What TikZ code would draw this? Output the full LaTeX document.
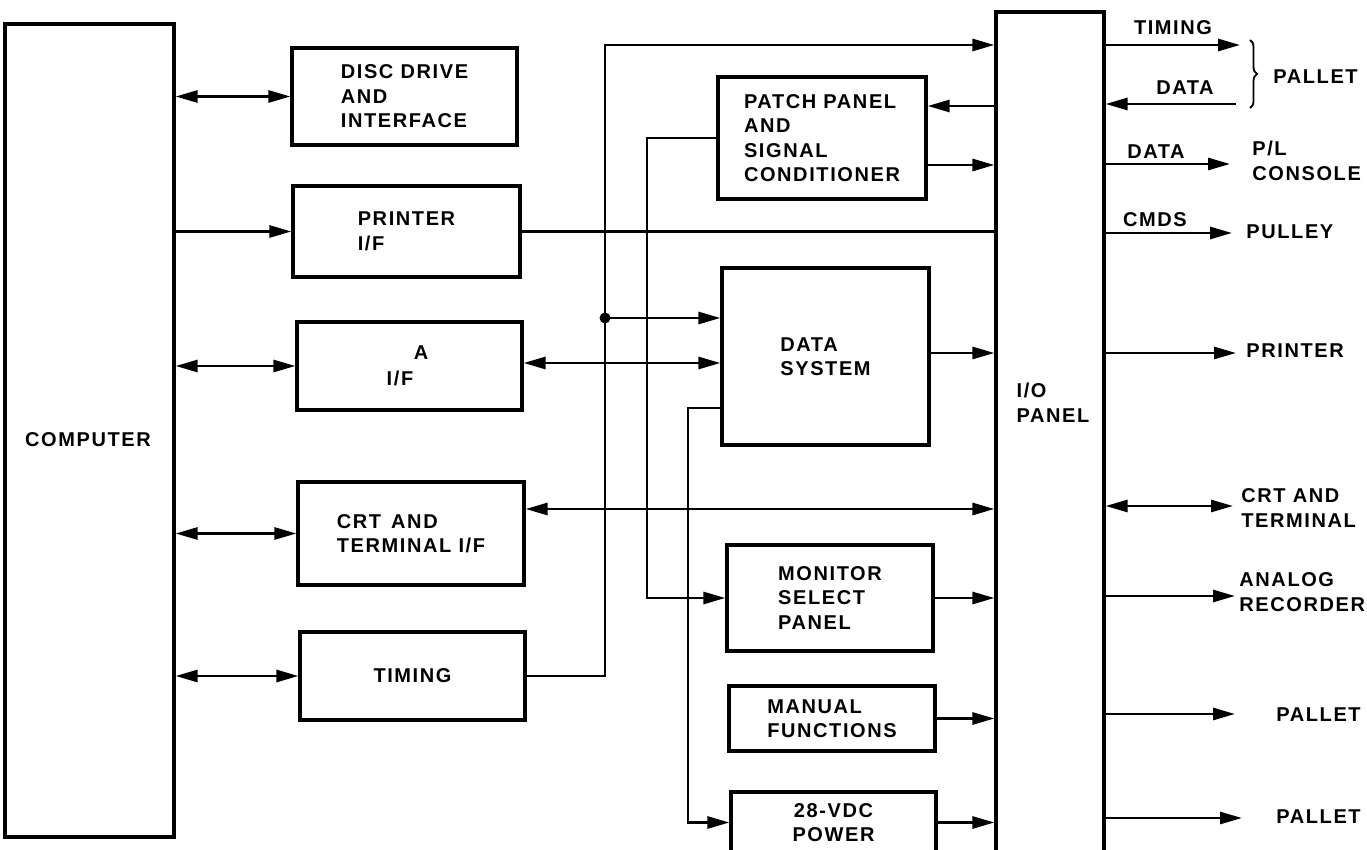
\documentclass[tikz,border=0pt]{standalone}
\usepackage{fontspec}
\setmainfont{Liberation Sans}[LetterSpace=8]
\usetikzlibrary{arrows.meta,decorations.pathreplacing}
\begin{document}
\begin{tikzpicture}[x=1pt,y=-1pt,
  line width=2.8pt,
  font=\fontsize{20}{24.5}\selectfont\bfseries,
  box/.style={draw, rectangle, inner sep=0pt, align=left, line width=3.2pt},
  txt/.style={inner sep=0pt, align=left},
  lbl/.style={inner sep=0pt, align=left, anchor=west},
  tip/.style={-{Triangle[length=22pt,width=12pt]}},
  dbl/.style={{Triangle[length=22pt,width=12pt]}-{Triangle[length=22pt,width=12pt]}},
  brc/.style={decorate, decoration={brace, amplitude=7pt}, line width=1.8pt}
]
\useasboundingbox (0,0) rectangle (1367,850);
\fill[white] (0,0) rectangle (1367,850);
\clip (0,0) rectangle (1367,850);

% boxes
\node[box, minimum width=169pt, minimum height=813pt] (comp) at (89.5,430.5) {};
\node[txt] (compt) at (88,440) {COMPUTER};
\node[box, minimum width=225pt, minimum height=97pt] (disc) at (404.5,96.5) {DISC DRIVE\\AND\\INTERFACE};
\node[box, minimum width=227pt, minimum height=91pt] (prn) at (406.5,231.5) {PRINTER\\I/F};
\node[box, minimum width=225pt, minimum height=88pt] (daif) at (409.5,366) {};
\node[txt] (daifa) at (421,353) {A};
\node[txt] (daiff) at (400,378) {I/F};
\node[box, minimum width=226pt, minimum height=103pt] (crt) at (411,533.5) {CRT\enspace AND\\TERMINAL I/F};
\node[box, minimum width=225pt, minimum height=88pt] (tim) at (412.5,676) {TIMING};
\node[box, minimum width=208pt, minimum height=122pt] (patch) at (822,138) {PATCH PANEL\\AND\\SIGNAL\\CONDITIONER};
\node[box, minimum width=207pt, minimum height=177pt] (ds) at (825.5,356.5) {DATA\\SYSTEM};
\node[box, minimum width=206pt, minimum height=106pt] (mon) at (830,598) {MONITOR\\SELECT\\PANEL};
\node[box, minimum width=206pt, minimum height=65pt] (man) at (832,718.5) {MANUAL\\FUNCTIONS};
\node[box, minimum width=205pt, minimum height=61pt, align=center] (pwr) at (833.5,822.5) {28-VDC\\POWER};
\node[box, minimum width=108pt, minimum height=858pt] (io) at (1050,441) {};
\node[txt] (iot) at (1053,403) {I/O\\PANEL};

% computer links
\draw[dbl] (comp.east |- disc.west) -- (disc.west);
\draw[tip] (comp.east |- prn.west) -- (prn.west);
\draw[dbl] (comp.east |- daif.west) -- (daif.west);
\draw[dbl] (comp.east |- crt.west) -- (crt.west);
\draw[dbl] (comp.east |- tim.west) -- (tim.west);

% middle links
\draw (prn.east) -- (io.west |- prn.east);
\draw[dbl] (daif.east |- 0,363) -- (ds.west |- 0,363);
\draw[dbl] (crt.east |- 0,509) -- (io.west |- 0,509);
\coordinate (tj) at (605,318);
\draw[tip] (tim.east) -- (605,676) |- (io.west |- 0,45);
\fill (tj) circle (5.5pt);
\draw[tip] (tj) -- (ds.west |- tj);
\draw[tip] (io.west |- 0,106) -- (patch.east |- 0,106);
\draw[tip] (patch.east |- 0,165) -- (io.west |- 0,165);
\draw[tip] (patch.west) -- (647,138) |- (mon.west);
\draw[tip] (ds.west |- 0,408) -- (688,408) |- (pwr.west);
\draw[tip] (ds.east |- 0,353) -- (io.west |- 0,353);
\draw[tip] (mon.east) -- (io.west |- mon.east);
\draw[tip] (man.east) -- (io.west |- man.east);
\draw[tip] (pwr.east) -- (io.west |- pwr.east);

% right side
\coordinate (rtim) at (1240,45);
\draw[tip] (io.east |- rtim) -- (rtim);
\node[txt] (ltim) at (1173,28) {TIMING};
\coordinate (rdat) at (1236,104);
\draw[tip] (rdat) -- (io.east |- rdat);
\node[txt] (ldat) at (1185,88) {DATA};
\draw[brc] (1250,40) -- (1250,108);
\node[lbl] (lpal1) at (1272,77) {PALLET};

\coordinate (rcon) at (1230,164);
\draw[tip] (io.east |- rcon) -- (rcon);
\node[txt] (ldat2) at (1156,152) {DATA};
\node[lbl] (lcon) at (1251,161) {P/L\\CONSOLE};

\coordinate (rpul) at (1232,233);
\draw[tip] (io.east |- rpul) -- (rpul);
\node[txt] (lcmd) at (1155,220) {CMDS};
\node[lbl] (lpul) at (1245,232) {PULLEY};

\coordinate (rprn) at (1236,353);
\draw[tip] (io.east |- rprn) -- (rprn);
\node[lbl] (lprn) at (1245,351) {PRINTER};

\coordinate (rcrt) at (1233,506);
\draw[dbl] (io.east |- rcrt) -- (rcrt);
\node[lbl] (lcrt) at (1240,508) {CRT AND\\TERMINAL};

\coordinate (rana) at (1235,596);
\draw[tip] (io.east |- rana) -- (rana);
\node[lbl] (lana) at (1238,592) {ANALOG\\RECORDER};

\coordinate (rpal2) at (1235,714);
\draw[tip] (io.east |- rpal2) -- (rpal2);
\node[lbl] (lpal2) at (1275,715) {PALLET};

\coordinate (rpal3) at (1242,818);
\draw[tip] (io.east |- rpal3) -- (rpal3);
\node[lbl] (lpal3) at (1275,817) {PALLET};
\end{tikzpicture}
\end{document}
